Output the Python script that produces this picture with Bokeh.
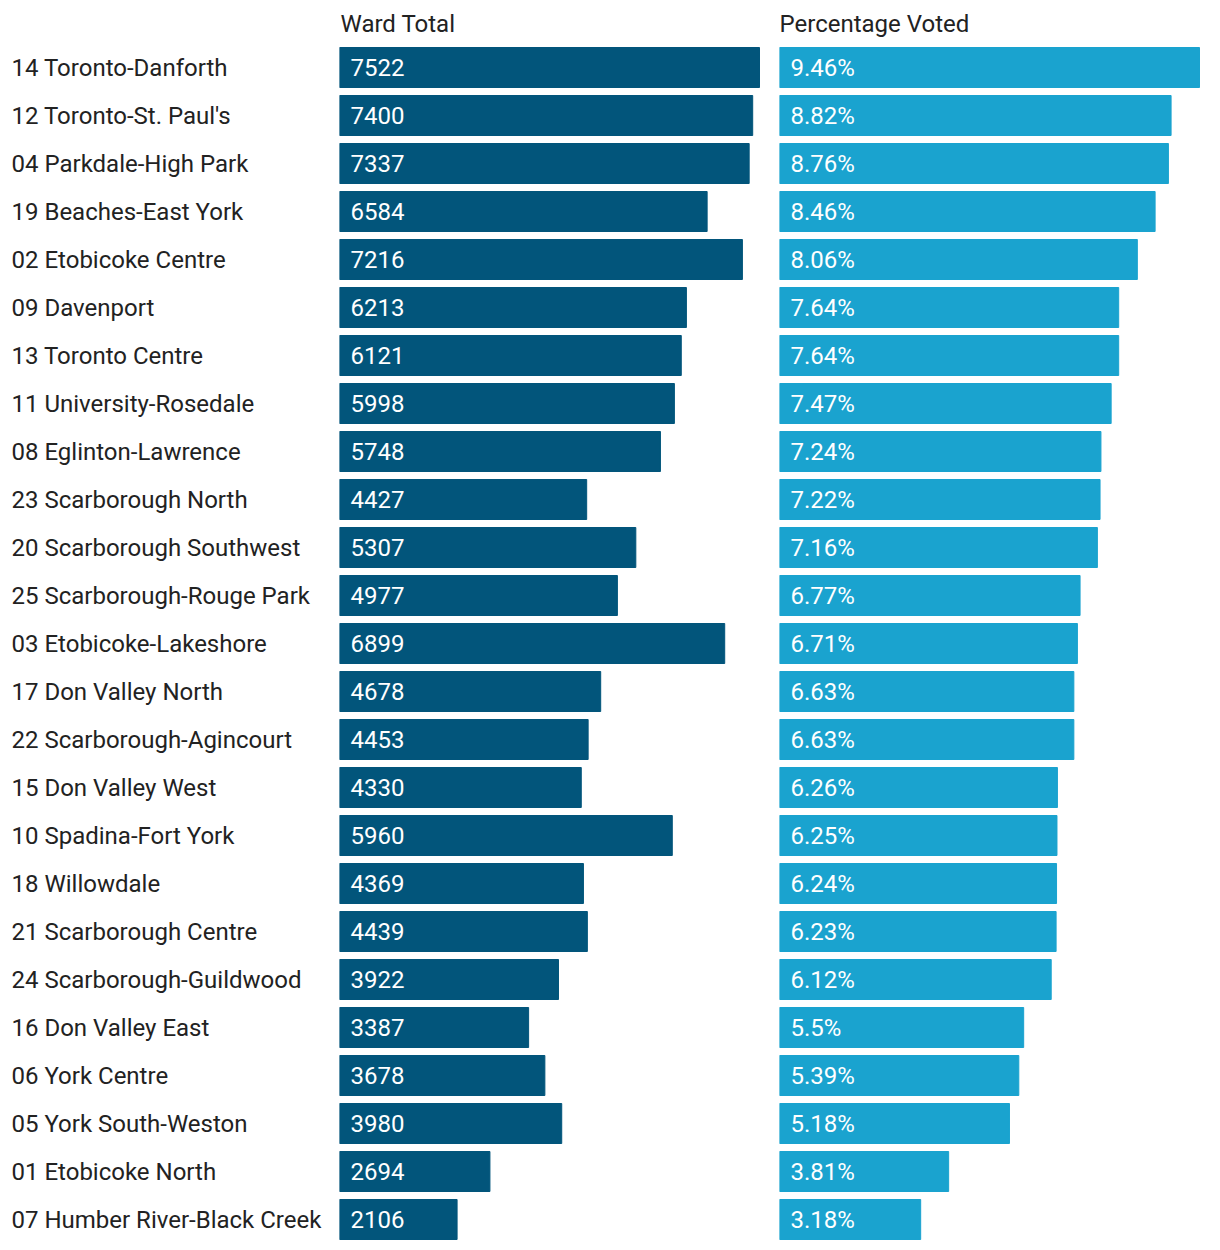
from bokeh.plotting import figure
from bokeh.layouts import row
from bokeh.models import Range1d, ColumnDataSource
from bokeh.core.properties import value
from bokeh.embed import file_html
from bokeh.resources import INLINE

wards = ["14 Toronto-Danforth", "12 Toronto-St. Paul's", "04 Parkdale-High Park",
         "19 Beaches-East York", "02 Etobicoke Centre", "09 Davenport",
         "13 Toronto Centre", "11 University-Rosedale", "08 Eglinton-Lawrence",
         "23 Scarborough North", "20 Scarborough Southwest", "25 Scarborough-Rouge Park",
         "03 Etobicoke-Lakeshore", "17 Don Valley North", "22 Scarborough-Agincourt",
         "15 Don Valley West", "10 Spadina-Fort York", "18 Willowdale",
         "21 Scarborough Centre", "24 Scarborough-Guildwood", "16 Don Valley East",
         "06 York Centre", "05 York South-Weston", "01 Etobicoke North",
         "07 Humber River-Black Creek"]
ward_total = [7522, 7400, 7337, 6584, 7216, 6213, 6121, 5998, 5748, 4427, 5307, 4977,
              6899, 4678, 4453, 4330, 5960, 4369, 4439, 3922, 3387, 3678, 3980, 2694, 2106]
pct_voted = [9.46, 8.82, 8.76, 8.46, 8.06, 7.64, 7.64, 7.47, 7.24, 7.22, 7.16, 6.77,
             6.71, 6.63, 6.63, 6.26, 6.25, 6.24, 6.23, 6.12, 5.5, 5.39, 5.18, 3.81, 3.18]
headers = ["Ward Total", "Percentage Voted"]

FONT = value("Roboto")
FS = "24px"
H = 1240
ROW = 48.0
y_top = -67.0 / ROW
y_bot = (H - 67.0) / ROW

idx = list(range(len(wards)))
DARK = "#02557b"
LIGHT = "#1aa3cf"
TXT = "#222222"


def base(width, xr):
    p = figure(width=width, height=H, output_backend="svg", toolbar_location=None,
               x_range=xr, y_range=Range1d(y_bot, y_top), min_border=0,
               outline_line_color=None)
    p.axis.visible = False
    p.grid.visible = False
    p.background_fill_color = "white"
    p.border_fill_color = "white"
    return p


# labels column
pl = base(339, Range1d(0, 339))
pl.text(x=[11] * len(wards), y=idx, text=wards, text_font=FONT, text_font_size=FS,
        text_color=TXT, text_baseline="middle", text_align="left")

# ward total column
wmax = max(ward_total)
pw = base(440, Range1d(0, wmax * 440 / 420))
src_w = ColumnDataSource(dict(y=idx, v=ward_total, z=[0] * len(idx),
                              t=[str(v) for v in ward_total]))
pw.hbar(y="y", left="z", right="v", height=40 / ROW, color=DARK, source=src_w)
pw.text(x="z", y="y", text="t", x_offset=11, text_font=FONT, text_font_size=FS,
        text_color="white", text_baseline="middle", text_align="left", source=src_w)
pw.text(x=[0], y=[-44 / ROW], text=[headers[0]], x_offset=1, text_font=FONT,
        text_font_size=FS, text_color=TXT, text_baseline="middle", text_align="left")

# percentage column
pmax = max(pct_voted)
pp = base(432, Range1d(0, pmax * 432 / 420))
src_p = ColumnDataSource(dict(y=idx, v=pct_voted, z=[0] * len(idx),
                              t=[f"{v:g}%" for v in pct_voted]))
pp.hbar(y="y", left="z", right="v", height=40 / ROW, color=LIGHT, source=src_p)
pp.text(x="z", y="y", text="t", x_offset=11, text_font=FONT, text_font_size=FS,
        text_color="white", text_baseline="middle", text_align="left", source=src_p)
pp.text(x=[0], y=[-44 / ROW], text=[headers[1]], x_offset=0, text_font=FONT,
        text_font_size=FS, text_color=TXT, text_baseline="middle", text_align="left")

layout = row(pl, pw, pp, spacing=0)
open("out.html", "w").write(file_html(layout, INLINE))
